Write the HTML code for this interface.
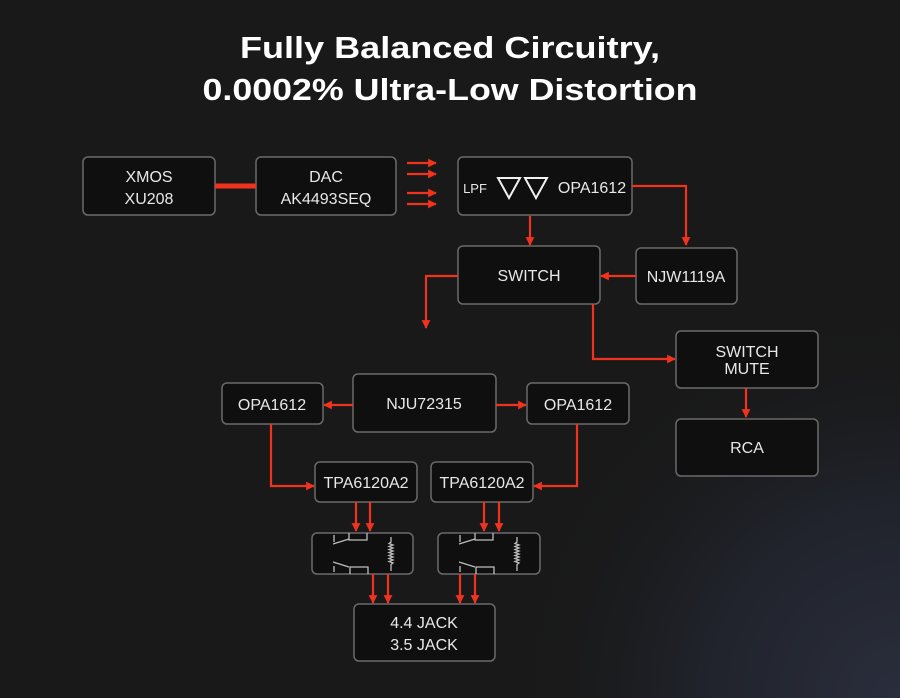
<!DOCTYPE html>
<html><head><style>
html,body{margin:0;padding:0;}
body{width:900px;height:698px;overflow:hidden;background:#191919;}
svg{display:block;}
</style></head><body>
<svg width="900" height="698" viewBox="0 0 900 698" xmlns="http://www.w3.org/2000/svg">
<defs>
<radialGradient id="bg" cx="900" cy="698" r="400" gradientUnits="userSpaceOnUse">
<stop offset="0" stop-color="#2a2e3c"/><stop offset="0.5" stop-color="#20232b"/><stop offset="1" stop-color="#191919" stop-opacity="0"/>
</radialGradient>
<marker id="a" viewBox="0 0 10 10" refX="9" refY="5" markerWidth="4" markerHeight="4" orient="auto"><path d="M0,0L10,5L0,10z" fill="#f0321e"/></marker>
</defs>
<rect width="900" height="698" fill="#191919"/>
<rect width="900" height="698" fill="url(#bg)"/>
<g font-family="Liberation Sans, sans-serif" font-weight="bold" fill="#fff" font-size="31" text-anchor="middle">
<text x="450" y="58" textLength="420" lengthAdjust="spacingAndGlyphs">Fully Balanced Circuitry,</text>
<text x="450" y="100" textLength="495" lengthAdjust="spacingAndGlyphs">0.0002% Ultra-Low Distortion</text>
</g>
<g fill="#0f0f0f" stroke="#6a6a6a" stroke-width="1.5">
<rect x="83" y="157" width="132" height="58" rx="5"/>
<rect x="256" y="157" width="140" height="58" rx="5"/>
<rect x="458" y="157" width="174" height="58" rx="5"/>
<rect x="458" y="246" width="142" height="58" rx="5"/>
<rect x="636" y="248" width="101" height="56" rx="5"/>
<rect x="676" y="331" width="142" height="57" rx="5"/>
<rect x="676" y="419" width="142" height="57" rx="5"/>
<rect x="353" y="374" width="143" height="58" rx="5"/>
<rect x="222" y="383" width="101" height="41" rx="5"/>
<rect x="527" y="383" width="102" height="41" rx="5"/>
<rect x="315" y="462" width="102" height="40" rx="5"/>
<rect x="431" y="462" width="102" height="40" rx="5"/>
<rect x="312" y="533" width="101" height="41" rx="5"/>
<rect x="438" y="533" width="102" height="41" rx="5"/>
<rect x="354" y="604" width="141" height="57" rx="5"/>
</g>
<g fill="#e8e8e8" font-family="Liberation Sans, sans-serif" font-size="16" text-anchor="middle">
<text x="149" y="182">XMOS</text><text x="149" y="204">XU208</text>
<text x="326" y="182">DAC</text><text x="326" y="204">AK4493SEQ</text>
<text x="475" y="193" font-size="13">LPF</text>
<text x="592" y="193">OPA1612</text>
<text x="529" y="281">SWITCH</text>
<text x="686" y="282">NJW1119A</text>
<text x="747" y="357">SWITCH</text><text x="747" y="374">MUTE</text>
<text x="747" y="453">RCA</text>
<text x="424" y="409">NJU72315</text>
<text x="272" y="410">OPA1612</text>
<text x="578" y="410">OPA1612</text>
<text x="366" y="488">TPA6120A2</text>
<text x="482" y="488">TPA6120A2</text>
<text x="424" y="628">4.4 JACK</text><text x="424" y="650">3.5 JACK</text>
</g>
<g fill="none" stroke="#f0f0f0" stroke-width="2">
<path d="M498,178 L520,178 L509,198 Z"/><path d="M525,178 L547,178 L536,198 Z"/>
</g>
<g fill="none" stroke="#bdbdbd" stroke-width="1.3">
<path d="M334,535V542M333,544L349,539M349,533V540H367V533"/>
<path d="M334,566V572M333,562L349,567M350,574V567H368V574"/>
<path d="M391,537V542l-2,1.5l4,1.5l-4,1.5l4,1.5l-4,1.5l4,1.5l-4,1.5l4,1.5l-4,1.5l4,1.5l-4,1.5l4,1.5l-4,1.5l4,1.5l-2,1.5V571"/>
<g transform="translate(126,0)">
<path d="M334,535V542M333,544L349,539M349,533V540H367V533"/>
<path d="M334,566V572M333,562L349,567M350,574V567H368V574"/>
<path d="M391,537V542l-2,1.5l4,1.5l-4,1.5l4,1.5l-4,1.5l4,1.5l-4,1.5l4,1.5l-4,1.5l4,1.5l-4,1.5l4,1.5l-4,1.5l4,1.5l-2,1.5V571"/>
</g>
</g>
<line x1="215" y1="186" x2="256" y2="186" stroke="#f0321e" stroke-width="5"/>
<g fill="none" stroke="#f0321e" stroke-width="2.2" marker-end="url(#a)">
<path d="M407,163H436"/><path d="M407,174H436"/><path d="M407,193H436"/><path d="M407,204H436"/>
<path d="M632,186H686V245"/>
<path d="M530,216V245"/>
<path d="M636,276H601"/>
<path d="M458,276H426V328"/>
<path d="M593,304V359H675"/>
<path d="M746,388V417"/>
<path d="M353,405H324"/>
<path d="M496,405H526"/>
<path d="M271,424V486H314"/>
<path d="M577,424V486H534"/>
<path d="M356,502V531"/><path d="M370,502V531"/>
<path d="M484,502V531"/><path d="M499,502V531"/>
<path d="M373,574V603"/><path d="M388,574V603"/>
<path d="M460,574V603"/><path d="M475,574V603"/>
</g>
</svg>
</body></html>
